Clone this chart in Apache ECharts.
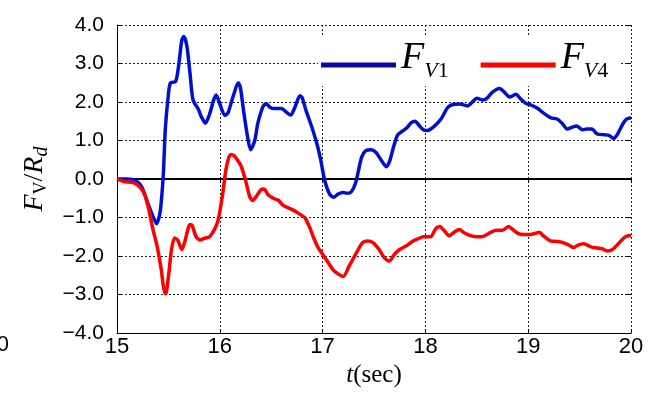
<!DOCTYPE html>
<html>
<head>
<meta charset="utf-8">
<script src="https://cdn.jsdelivr.net/npm/echarts@6/dist/echarts.min.js"></script>
<style>
  html, body { margin: 0; padding: 0; background: #fff; }
  #chart { width: 663px; height: 393px; }
</style>
</head>
<body>
<div id="chart"></div>
<script>
// Time axis (sec) and vertical force ratio F_V / R_d for the two columns
const fv1Time = [15.00, 15.10, 15.18, 15.24, 15.30, 15.35, 15.385, 15.42, 15.45, 15.47, 15.50, 15.52, 15.57, 15.60, 15.63, 15.65, 15.68, 15.71, 15.74, 15.79, 15.82, 15.86, 15.90, 15.94, 15.965, 16.00, 16.05, 16.08, 16.13, 16.18, 16.20, 16.23, 16.27, 16.30, 16.34, 16.37, 16.42, 16.45, 16.49, 16.53, 16.60, 16.65, 16.69, 16.73, 16.78, 16.80, 16.84, 16.89, 16.94, 16.98, 17.02, 17.07, 17.11, 17.15, 17.20, 17.24, 17.28, 17.32, 17.35, 17.38, 17.42, 17.47, 17.52, 17.57, 17.62, 17.65, 17.69, 17.73, 17.78, 17.82, 17.86, 17.90, 17.94, 17.98, 18.02, 18.09, 18.15, 18.215, 18.26, 18.33, 18.41, 18.46, 18.50, 18.56, 18.60, 18.65, 18.72, 18.77, 18.82, 18.88, 18.93, 18.98, 19.03, 19.09, 19.15, 19.22, 19.28, 19.33, 19.38, 19.43, 19.47, 19.53, 19.57, 19.62, 19.67, 19.74, 19.79, 19.83, 19.87, 19.92, 19.96, 20.00];
const fv1Value = [0.00, 0.00, -0.04, -0.20, -0.63, -0.97, -1.16, -0.85, 0.10, 1.30, 2.20, 2.50, 2.53, 2.95, 3.60, 3.70, 3.45, 2.75, 2.05, 1.82, 1.62, 1.45, 1.68, 2.05, 2.18, 1.95, 1.65, 1.72, 2.15, 2.50, 2.38, 1.80, 1.10, 0.76, 1.00, 1.45, 1.88, 1.96, 1.86, 1.83, 1.83, 1.73, 1.66, 1.86, 2.16, 2.12, 1.77, 1.39, 0.96, 0.52, -0.03, -0.40, -0.47, -0.39, -0.35, -0.37, -0.33, -0.11, 0.23, 0.57, 0.74, 0.76, 0.69, 0.49, 0.32, 0.45, 0.83, 1.15, 1.25, 1.33, 1.46, 1.50, 1.39, 1.28, 1.26, 1.38, 1.55, 1.85, 1.93, 1.95, 1.90, 2.01, 2.10, 2.05, 2.10, 2.25, 2.35, 2.25, 2.13, 2.20, 2.07, 1.96, 1.92, 1.84, 1.71, 1.59, 1.56, 1.45, 1.30, 1.35, 1.38, 1.28, 1.30, 1.30, 1.17, 1.15, 1.13, 1.05, 1.17, 1.43, 1.56, 1.59];

const fv4Time = [15.00, 15.08, 15.16, 15.22, 15.27, 15.31, 15.35, 15.39, 15.43, 15.45, 15.47, 15.48, 15.505, 15.53, 15.56, 15.59, 15.63, 15.66, 15.71, 15.73, 15.77, 15.81, 15.86, 15.90, 15.95, 15.98, 16.00, 16.03, 16.06, 16.09, 16.11, 16.14, 16.17, 16.21, 16.25, 16.29, 16.32, 16.35, 16.40, 16.43, 16.47, 16.52, 16.57, 16.61, 16.66, 16.71, 16.76, 16.80, 16.83, 16.87, 16.92, 16.96, 17.00, 17.05, 17.11, 17.20, 17.26, 17.33, 17.39, 17.44, 17.49, 17.55, 17.60, 17.65, 17.70, 17.75, 17.81, 17.88, 17.93, 17.98, 18.05, 18.10, 18.14, 18.18, 18.23, 18.28, 18.33, 18.38, 18.44, 18.51, 18.57, 18.64, 18.69, 18.75, 18.81, 18.85, 18.90, 18.95, 19.02, 19.07, 19.11, 19.15, 19.22, 19.28, 19.34, 19.40, 19.44, 19.48, 19.54, 19.61, 19.67, 19.72, 19.77, 19.82, 19.87, 19.93, 19.97, 20.00];
const fv4Value = [0.00, -0.07, -0.09, -0.20, -0.41, -0.80, -1.31, -1.74, -2.34, -2.77, -2.98, -2.94, -2.43, -1.83, -1.53, -1.58, -1.83, -1.62, -1.18, -1.20, -1.50, -1.58, -1.53, -1.50, -1.30, -1.10, -0.85, -0.35, 0.25, 0.58, 0.64, 0.60, 0.50, 0.32, -0.03, -0.45, -0.56, -0.47, -0.28, -0.26, -0.41, -0.50, -0.55, -0.67, -0.74, -0.80, -0.88, -0.95, -1.01, -1.23, -1.57, -1.80, -1.95, -2.15, -2.38, -2.53, -2.25, -1.91, -1.65, -1.61, -1.65, -1.83, -2.04, -2.13, -1.95, -1.83, -1.74, -1.61, -1.55, -1.50, -1.50, -1.29, -1.23, -1.33, -1.47, -1.38, -1.31, -1.40, -1.47, -1.50, -1.48, -1.38, -1.33, -1.33, -1.23, -1.31, -1.41, -1.44, -1.44, -1.41, -1.38, -1.48, -1.61, -1.62, -1.65, -1.72, -1.78, -1.72, -1.68, -1.76, -1.79, -1.81, -1.87, -1.83, -1.70, -1.53, -1.47, -1.47];

const seriesNames = ['FV1', 'FV4'];
const xRange = [15, 20];
const yRange = [-4, 4];

const pairs = (ts, vs) => ts.map((t, i) => [t, vs[i]]);

const serif = 'Liberation Serif';
const sans = 'Liberation Sans';

const chart = echarts.init(document.getElementById('chart'), null, { renderer: 'canvas' });

const subStyle = (italic) => ({
  fontFamily: serif, fontStyle: italic ? 'italic' : 'normal',
  fontSize: 22, color: '#000', padding: [12, 0, 0, 0]
});

chart.setOption({
  animation: false,
  backgroundColor: '#fff',
  grid: { left: 117, right: 32, top: 25, bottom: 57, containLabel: false },
  graphic: [
    // panel backing for the legend
    { type: 'rect', z: 1, shape: { x: 318, y: 36, width: 302, height: 50 }, style: { fill: '#fff' } },
    // tail of the neighbouring panel's tick label
    { type: 'text', z: 1, x: 9, y: 345, style: { text: '10', fontFamily: sans, fontSize: 22, fill: '#000', align: 'right', verticalAlign: 'middle' } }
  ],
  legend: {
    left: 316, top: 39, itemWidth: 75, itemHeight: 5, itemGap: 32, icon: 'rect',
    padding: [0, 5, 0, 5],
    data: [
      { name: seriesNames[0], itemStyle: { color: '#0a0a9e' } },
      { name: seriesNames[1], itemStyle: { color: '#ff0000' } }
    ],
    formatter: (name) => name === 'FV1' ? '{f|F}{v|V}{n|1}' : '{f|F}{v|V}{n|4}',
    textStyle: {
      rich: {
        f: { fontFamily: serif, fontStyle: 'italic', fontSize: 38, color: '#000', padding: [0, 0, 14, 0] },
        v: subStyle(true),
        n: subStyle(false)
      }
    }
  },
  xAxis: [{
    type: 'value', min: xRange[0], max: xRange[1], interval: 1,
    name: '{t|t}{s|(sec)}', nameLocation: 'middle', nameGap: 29,
    nameTextStyle: {
      rich: {
        t: { fontFamily: serif, fontStyle: 'italic', fontSize: 25, color: '#000' },
        s: { fontFamily: serif, fontSize: 25, color: '#000' }
      }
    },
    axisLine: { show: true, onZero: false, lineStyle: { color: '#000', width: 1 } },
    axisTick: { show: true, inside: true, length: 4, lineStyle: { color: '#000' } },
    axisLabel: { fontFamily: sans, fontSize: 22, color: '#000', margin: 3 },
    splitLine: { show: true, lineStyle: { type: [2, 2], color: '#222', width: 1 } }
  }, {
    type: 'value', position: 'top', min: xRange[0], max: xRange[1], interval: 1,
    axisLine: { show: false }, axisLabel: { show: false },
    axisTick: { show: true, inside: true, length: 4, lineStyle: { color: '#000' } },
    splitLine: { show: false }
  }],
  yAxis: [{
    type: 'value', min: yRange[0], max: yRange[1], interval: 1,
    name: '{f|F}{v|V}{sl|/}{r|R}{d|d}', nameLocation: 'middle', nameRotate: 90, nameGap: 62,
    nameTextStyle: {
      rich: {
        f: { fontFamily: serif, fontStyle: 'italic', fontSize: 28, color: '#000' },
        v: { fontFamily: serif, fontSize: 18, color: '#000', padding: [14, 0, 0, 0] },
        sl: { fontFamily: serif, fontSize: 28, color: '#000' },
        r: { fontFamily: serif, fontStyle: 'italic', fontSize: 28, color: '#000' },
        d: { fontFamily: serif, fontStyle: 'italic', fontSize: 20, color: '#000', padding: [14, 0, 0, 0] }
      }
    },
    axisLine: { show: true, onZero: false, lineStyle: { color: '#000', width: 1 } },
    axisTick: { show: true, inside: true, length: 4, lineStyle: { color: '#000' } },
    axisLabel: {
      fontFamily: sans, fontSize: 21, color: '#000', margin: 13, padding: [0, 0, 5, 0],
      formatter: (v) => (v < 0 ? '\u2212' : '') + Math.abs(v).toFixed(1)
    },
    splitLine: { show: true, lineStyle: { type: [2, 2], color: '#222', width: 1 } }
  }, {
    type: 'value', position: 'right', min: yRange[0], max: yRange[1], interval: 1,
    axisLine: { show: false }, axisLabel: { show: false },
    axisTick: { show: true, inside: true, length: 4, lineStyle: { color: '#000' } },
    splitLine: { show: false }
  }],
  series: [{
    name: seriesNames[0], type: 'line', data: pairs(fv1Time, fv1Value),
    showSymbol: false, smooth: 0.25, z: 3,
    lineStyle: { color: '#0010d0', width: 3.5 }, itemStyle: { color: '#0010d0' },
    markLine: {
      silent: true, symbol: 'none', label: { show: false }, z: 2,
      lineStyle: { color: '#000', type: 'solid', width: 2 },
      data: [{ yAxis: 0 }]
    }
  }, {
    name: seriesNames[1], type: 'line', data: pairs(fv4Time, fv4Value),
    showSymbol: false, smooth: 0.25, z: 4,
    lineStyle: { color: '#ff0000', width: 3.5 }, itemStyle: { color: '#ff0000' }
  }]
});
</script>
</body>
</html>
